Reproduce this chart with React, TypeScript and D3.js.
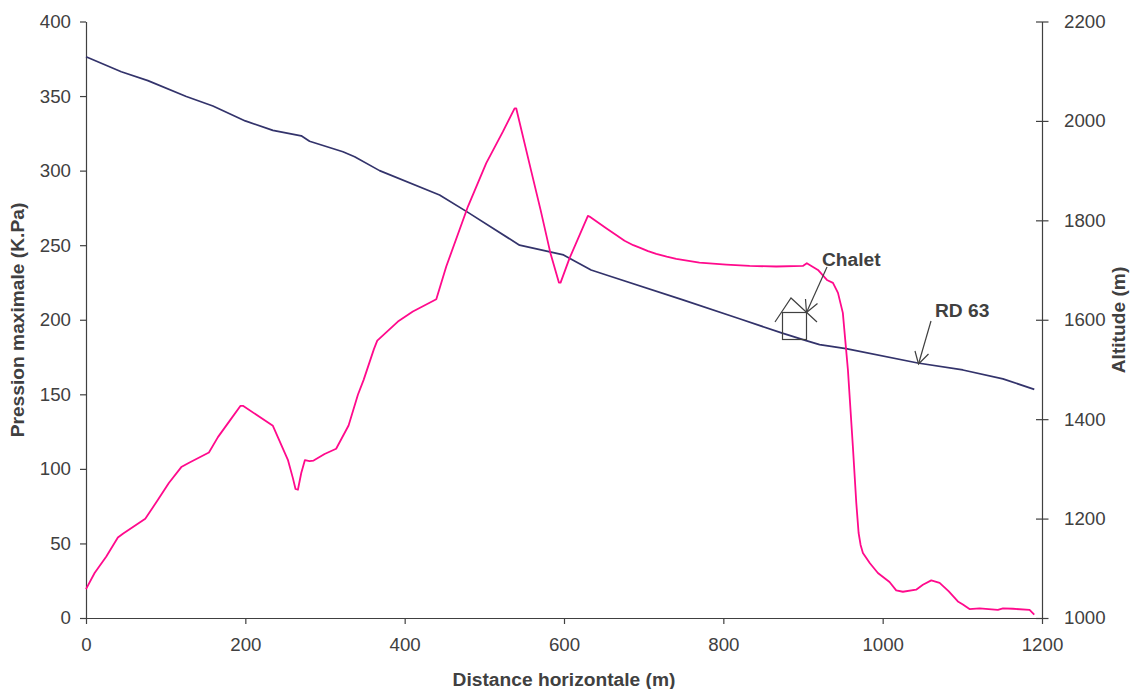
import * as d3 from "d3";
import { useEffect, useRef } from "react";

// Pression maximale (kPa) en fonction de la distance (m)
const pressionDistance = [
  0, 10.8, 25.5, 40, 46.3, 74.4, 90.3, 104, 119.6, 130, 154.3, 165.6, 180.3, 194, 197, 234.6, 253.4, 259.7, 263, 266,
  270.2, 274.8, 280.6, 285.7, 299.5, 314, 329.6, 341.3, 348.5, 361.4, 365.6, 391.5, 410.3, 439.7, 452.2, 479.4, 502.4,
  523.3, 538, 540, 558.5, 570.6, 582.8, 593.6, 595.7, 607, 630, 632, 653, 665, 676, 687, 694.9, 705.5, 715.8, 728.9,
  740.9, 770, 803.7, 833, 866.4, 899.8, 904.8, 918.8, 930, 937.6, 943.9, 950, 956.4, 962.6, 966.9, 969.8, 972.3, 975.2,
  984, 994, 1008.6, 1017, 1025.4, 1042, 1050.5, 1061, 1071.5, 1083, 1094.4, 1100.7, 1109, 1121.6, 1144.6, 1151, 1163.5,
  1184.4, 1190.3,
];
const pressionValeurs = [
  19.4, 30.2, 41.3, 54, 56.5, 66.5, 79.3, 90.5, 101.2, 104.3, 111, 121.3, 132.2, 142.3, 142.3, 128.9, 106.1, 93.8, 86.5,
  86, 97.2, 105.9, 105.2, 105.6, 110, 113.5, 129.1, 149.7, 159.7, 180.3, 186, 198.8, 205.5, 213.8, 235.7, 275.9, 305,
  326.1, 341.8, 341.8, 300.5, 273.7, 245, 224.9, 224.9, 241.3, 269.6, 269.2, 261.4, 257, 253, 250, 248.4, 246, 244.2,
  242.3, 240.8, 238.3, 237, 236.1, 235.7, 236.1, 237.9, 233.4, 226.7, 224.7, 218, 204.6, 166.3, 115, 77.1, 57, 49, 43.6,
  36.7, 30.2, 24.1, 18.5, 17.6, 19, 22.3, 25.2, 23.5, 17.8, 11.1, 9.1, 6, 6.4, 5.4, 6.4, 6.2, 5.4, 2.2,
];

// Altitude de la RD 63 (m) en fonction de la distance (m)
const altitudeDistance = [
  0, 44.3, 77.7, 125.9, 159.3, 199.9, 234.6, 270.2, 280.6, 322.5, 337.2, 368.5, 443.8, 479.4, 544.2, 599.4, 634, 657,
  749.2, 820.3, 874, 904, 920.8, 954, 1044, 1100.7, 1151, 1190.3,
];
const altitudeValeurs = [
  2129, 2099, 2081, 2049, 2030, 2000, 1981, 1970, 1959, 1938, 1928, 1900, 1851, 1816, 1750, 1730.5, 1700, 1688, 1640,
  1602, 1573, 1558, 1550, 1542, 1513, 1499, 1481, 1460,
];

const distanceTicks = [0, 200, 400, 600, 800, 1000, 1200];
const pressionTicks = [0, 50, 100, 150, 200, 250, 300, 350, 400];
const altitudeTicks = [1000, 1200, 1400, 1600, 1800, 2000, 2200];

const width = 1135;
const height = 689;
const FONT = '"Liberation Sans", Arial, sans-serif';
const TEXT = "#404040";
const AXIS = "#404040";

const App = () => {
  const ref = useRef<SVGSVGElement>(null);

  useEffect(() => {
    const svg = d3.select(ref.current);
    svg.selectAll("*").remove();

    const x = d3.scaleLinear().domain([0, 1200]).range([86, 1042]);
    const yP = d3.scaleLinear().domain([0, 400]).range([618, 21.5]);
    const yA = d3.scaleLinear().domain([1000, 2200]).range([618, 21.5]);
    const fmt = d3.format("d");

    const styleAxis = (g: any) => {
      g.selectAll("path").attr("stroke", AXIS).attr("stroke-width", 1.2);
      g.selectAll("line").attr("stroke", AXIS).attr("stroke-width", 1.2);
      g.selectAll("text").attr("fill", TEXT).attr("font-family", FONT).attr("font-size", 18.7);
    };

    // axes
    const bottom = svg
      .append("g")
      .attr("transform", `translate(0,${yP(0)})`)
      .call(d3.axisBottom(x).tickValues(distanceTicks).tickFormat(fmt).tickSizeInner(6).tickSizeOuter(0).tickPadding(14));
    styleAxis(bottom);

    const left = svg
      .append("g")
      .attr("transform", `translate(${x(0)},0)`)
      .call(d3.axisLeft(yP).tickValues(pressionTicks).tickFormat(fmt).tickSizeInner(6).tickSizeOuter(0).tickPadding(9));
    styleAxis(left);

    const right = svg
      .append("g")
      .attr("transform", `translate(${x(1200)},0)`)
      .call(d3.axisRight(yA).tickValues(altitudeTicks).tickFormat(fmt).tickSizeInner(6).tickSizeOuter(0).tickPadding(16));
    styleAxis(right);
    right.selectAll(".tick line").attr("x1", -6).attr("x2", 6.5);

    // courbes
    const line = d3
      .line<[number, number]>()
      .x((d) => x(d[0]))
      .y((d) => d[1]);

    const pression = pressionDistance.map((d, i) => [d, yP(pressionValeurs[i])] as [number, number]);
    const altitude = altitudeDistance.map((d, i) => [d, yA(altitudeValeurs[i])] as [number, number]);

    svg
      .append("path")
      .attr("d", line(altitude))
      .attr("fill", "none")
      .attr("stroke", "#33336b")
      .attr("stroke-width", 1.7)
      .attr("stroke-linejoin", "round");
    svg
      .append("path")
      .attr("d", line(pression))
      .attr("fill", "none")
      .attr("stroke", "#ff0a8c")
      .attr("stroke-width", 1.8)
      .attr("stroke-linejoin", "round");

    // chalet et flèches
    const deco = svg.append("g").attr("fill", "none").attr("stroke", AXIS).attr("stroke-width", 1.2);
    deco.append("rect").attr("x", 782.5).attr("y", 312.5).attr("width", 24).attr("height", 27);
    deco.append("polyline").attr("points", "775,322 791,298 817,322");
    deco.append("line").attr("x1", 827).attr("y1", 267).attr("x2", 806.5).attr("y2", 312.5);
    deco.append("polyline").attr("points", "805.5,299 806.5,312.5 817.5,303.5");
    deco.append("line").attr("x1", 931).attr("y1", 321).attr("x2", 918.5).attr("y2", 364);
    deco.append("polyline").attr("points", "915,351 918.5,364 928.5,354");

    // titres
    const label = (txt: string, px: number, py: number, anchor: string, rot?: number) => {
      svg
        .append("text")
        .attr("transform", `translate(${px},${py})${rot ? ` rotate(${rot})` : ""}`)
        .attr("text-anchor", anchor)
        .attr("font-family", FONT)
        .attr("font-weight", "bold")
        .attr("font-size", 19.2)
        .attr("fill", TEXT)
        .text(txt);
    };
    label("Distance horizontale (m)", 564, 686, "middle");
    label("Pression maximale (K.Pa)", 24, 320, "middle", -90);
    label("Altitude (m)", 1125, 320, "middle", -90);
    label("Chalet", 822, 266, "start");
    label("RD 63", 935, 317, "start");
  }, []);

  return <svg ref={ref} width={width} height={height} style={{ position: "absolute", left: 0, top: 0, background: "#fff" }} />;
};

export default App;
